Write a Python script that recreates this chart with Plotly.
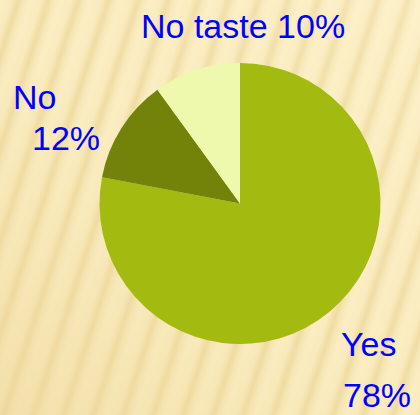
import base64
import plotly.graph_objects as go

# Survey answers and their shares (percent)
labels = ["Yes", "No", "No taste"]
values = [78, 12, 10]
colors = ["#a3ba10", "#738309", "#eef9ae"]

W, H = 420, 415

# Striped beige backdrop drawn as an inline SVG image
bg_svg = f"""<svg xmlns='http://www.w3.org/2000/svg' width='{W}' height='{H}'>
<defs>
<linearGradient id='band' x1='0' y1='0' x2='1' y2='0'>
<stop offset='0' stop-color='#fdf1c9'/>
<stop offset='0.38' stop-color='#fbeec4'/>
<stop offset='0.62' stop-color='#efdaa0'/>
<stop offset='0.80' stop-color='#f8e9ba'/>
<stop offset='1' stop-color='#fdf1c9'/>
</linearGradient>
<pattern id='stripes' width='28.5' height='40' patternUnits='userSpaceOnUse' patternTransform='rotate(18)'>
<rect width='28.5' height='40' fill='url(#band)'/>
</pattern>
<linearGradient id='shade' x1='1' y1='0' x2='0' y2='1'>
<stop offset='0' stop-color='#fdf3cf' stop-opacity='0.35'/>
<stop offset='0.5' stop-color='#f3e0a8' stop-opacity='0.2'/>
<stop offset='1' stop-color='#ecd698' stop-opacity='0.6'/>
</linearGradient>
</defs>
<rect width='{W}' height='{H}' fill='url(#stripes)'/>
<rect width='{W}' height='{H}' fill='url(#shade)'/>
</svg>"""
bg_src = "data:image/svg+xml;base64," + base64.b64encode(bg_svg.encode()).decode()

fig = go.Figure(
    go.Pie(
        labels=labels,
        values=values,
        sort=False,
        direction="clockwise",
        rotation=0,
        marker=dict(colors=colors, line=dict(width=0)),
        textinfo="none",
        hoverinfo="label+percent",
        showlegend=False,
        domain=dict(x=[99.5 / W, 380.5 / W], y=[71 / H, 352 / H]),
    )
)

font = dict(family="Liberation Sans, Arial, sans-serif", size=34, color="#0000ff")


def px(x, y):
    return x / W, 1 - y / H


def pct(v):
    return f"{v}%"


# Label placements (pixel centres) for name and percentage of each slice
notes = []
x, y = px(243, 26)
notes.append(dict(text=f"{labels[2]} {pct(values[2])}", x=x, y=y))
x, y = px(34, 97)
notes.append(dict(text=labels[1], x=x, y=y))
x, y = px(65.5, 138)
notes.append(dict(text=pct(values[1]), x=x, y=y))
x, y = px(368.5, 344)
notes.append(dict(text=labels[0], x=x, y=y))
x, y = px(377, 395)
notes.append(dict(text=pct(values[0]), x=x, y=y))

for n in notes:
    fig.add_annotation(
        text=n["text"], x=n["x"], y=n["y"], xref="paper", yref="paper",
        xanchor="center", yanchor="middle", showarrow=False, font=font,
    )

fig.update_layout(
    width=W,
    height=H,
    margin=dict(l=0, r=0, t=0, b=0),
    paper_bgcolor="#f9ebbf",
    plot_bgcolor="rgba(0,0,0,0)",
    images=[dict(source=bg_src, xref="paper", yref="paper", x=0, y=1,
                 sizex=1, sizey=1, sizing="stretch", layer="below",
                 xanchor="left", yanchor="top")],
)

fig.write_html("out.html")
